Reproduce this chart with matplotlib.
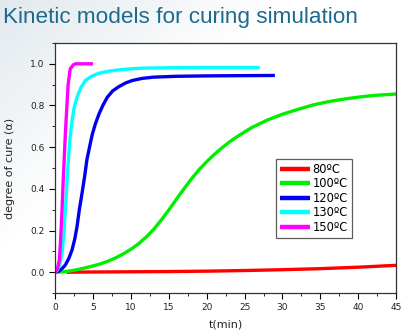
import numpy as np
import matplotlib.pyplot as plt
from matplotlib.colors import LinearSegmentedColormap

# curing curves (t in min, degree of cure)
t_80 = [1.5, 5, 10, 15, 20, 25, 30, 35, 40, 45]
a_80 = [0.0, 0.001, 0.002, 0.003, 0.005, 0.008, 0.012, 0.017, 0.024, 0.033]

t_100 = [0, 1, 2, 3, 4, 5, 6, 7, 8, 9, 10, 11, 12, 13, 14, 15, 16, 17, 18,
         19, 20, 21, 22, 23, 24, 25, 26, 28, 30, 32, 34, 36, 38, 40, 42, 45]
a_100 = [0, 0.002, 0.006, 0.013, 0.021, 0.03, 0.04, 0.053, 0.069, 0.088,
         0.11, 0.136, 0.168, 0.205, 0.25, 0.298, 0.35, 0.40, 0.448, 0.492,
         0.53, 0.565, 0.596, 0.625, 0.65, 0.673, 0.695, 0.73, 0.758, 0.781,
         0.802, 0.818, 0.83, 0.84, 0.848, 0.855]

t_120 = [0, 0.5, 1.0, 1.36, 1.8, 2.24, 2.6, 2.9, 3.2, 3.56, 3.9, 4.2, 4.6,
         4.9, 5.3, 5.8, 6.3, 6.9, 7.6, 8.4, 9.3, 10.2, 11.5, 13, 16, 20, 24,
         29]
a_120 = [0, 0.005, 0.02, 0.035, 0.065, 0.107, 0.16, 0.22, 0.30, 0.38, 0.46,
         0.54, 0.61, 0.66, 0.71, 0.76, 0.80, 0.84, 0.87, 0.89, 0.908, 0.92,
         0.93, 0.936, 0.94, 0.942, 0.943, 0.944]

t_130 = [0, 0.3, 0.6, 0.92, 1.15, 1.36, 1.55, 1.75, 2.0, 2.24, 2.55, 2.9,
         3.4, 4.0, 4.8, 5.8, 7, 8.4, 10, 11.5, 15, 20, 27]
a_130 = [0, 0.01, 0.035, 0.09, 0.18, 0.30, 0.42, 0.54, 0.65, 0.73, 0.795,
         0.84, 0.885, 0.92, 0.94, 0.955, 0.964, 0.971, 0.976, 0.979, 0.981,
         0.982, 0.982]

t_150 = [0, 0.3, 0.57, 0.75, 0.92, 1.05, 1.2, 1.35, 1.5, 1.72, 2.0, 2.4,
         2.7, 5]
a_150 = [0, 0.015, 0.06, 0.17, 0.30, 0.42, 0.54, 0.66, 0.76, 0.90, 0.976,
         0.995, 1.0, 1.0]

labels = ['80ºC', '100ºC', '120ºC', '130ºC', '150ºC']
colors = ['#ff0000', '#00ee00', '#0000ee', '#00ffff', '#ff00ff']

fig = plt.figure(figsize=(4.08, 3.33), dpi=100)

# faint grey-blue wash in the top-left corner behind the title
bg = fig.add_axes([0, 0, 1, 1], zorder=-1)
yy, xx = np.mgrid[0:1:200j, 0:1:200j]
shade = np.clip(1 - (xx / 0.7 + (1 - yy) / 0.75), 0, 1)
wash = LinearSegmentedColormap.from_list('wash', ['#ffffff', '#e2e9ee'])
bg.imshow(shade, cmap=wash, vmin=0, vmax=1, extent=[0, 1, 0, 1],
          aspect='auto', origin='lower')
bg.axis('off')

fig.text(0.008, 0.93, 'Kinetic models for curing simulation',
         fontsize=16.2, color='#1d6b8c', family='Liberation Sans')

ax = fig.add_axes([0.135, 0.12, 0.836, 0.751])
data = [(t_80, a_80), (t_100, a_100), (t_120, a_120), (t_130, a_130),
        (t_150, a_150)]
for (t, a), lab, c in zip(data, labels, colors):
    ax.plot(t, a, color=c, lw=2.4, label=lab, solid_capstyle='butt')

ax.set_xlim(0, 45)
ax.set_ylim(-0.1, 1.1)
ax.set_xticks(range(0, 46, 5))
ax.set_xticks(np.arange(0, 45.1, 2.5), minor=True)
ax.set_yticks([0.0, 0.2, 0.4, 0.6, 0.8, 1.0])
ax.set_yticks(np.arange(-0.1, 1.11, 0.1), minor=True)
ax.tick_params(which='both', direction='out', labelsize=6.5,
               labelcolor='#222222')
ax.tick_params(which='major', length=4)
ax.tick_params(which='minor', length=2.5)
ax.set_yticklabels(['0.0', '0.2', '0.4', '0.6', '0.8', '1.0'])
for sp in ax.spines.values():
    sp.set_color('#333333')
    sp.set_linewidth(0.9)

ax.set_xlabel('t(min)', fontsize=8, color='#222222', labelpad=5)
ax.set_ylabel('degree of cure (α)', fontsize=8, color='#222222', labelpad=11)

leg = ax.legend(loc='upper left', bbox_to_anchor=(0.648, 0.536),
                fontsize=8.3, frameon=True, fancybox=False, handlelength=2.6,
                handletextpad=0.2, borderpad=0.35, labelspacing=0.12,
                borderaxespad=0)
leg.get_frame().set_edgecolor('#333333')
leg.get_frame().set_linewidth(0.9)
for h in leg.get_lines():
    h.set_linewidth(3.2)

plt.savefig('out.png', dpi=100)
plt.close()
